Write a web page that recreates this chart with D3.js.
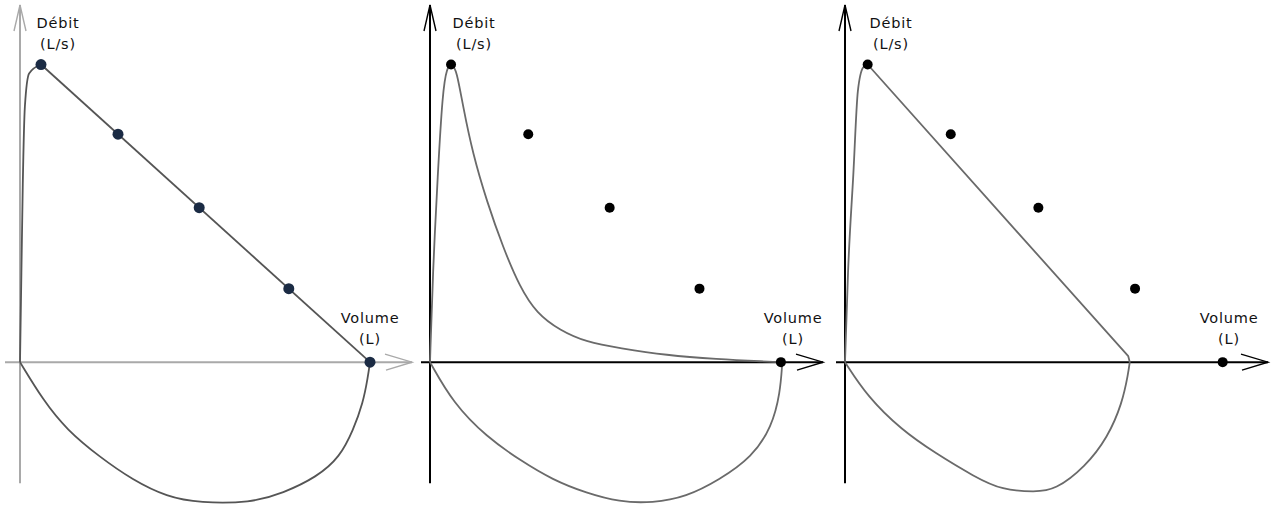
<!DOCTYPE html>
<html>
<head>
<meta charset="utf-8">
<script src="https://cdn.jsdelivr.net/npm/d3@7"></script>
<style>
  html, body { margin: 0; padding: 0; background: #ffffff; }
  svg { display: block; }
  .lbl { font-family: "DejaVu Sans", Verdana, sans-serif; font-size: 14.5px; letter-spacing: 0.8px; fill: #111; }
</style>
</head>
<body>
<div id="chart"></div>
<script>
// volume (L) / debit (L/s) readings, one set per panel
const predictedVolume = [0.3, 1.4, 2.56, 3.84, 5.0];
const predictedFlow = [10, 7.66, 5.19, 2.47, 0];

const normalRise = [[0, 0], [0.02, 3], [0.04, 6], [0.07, 8.6], [0.13, 9.7], [0.3, 10]];
const normalDescent = [[0.3, 10], [5.0, 0]];
const normalInspiration = [[0, 0], [0.33, -1.28], [0.67, -2.28], [1.14, -3.19], [1.61, -3.96], [2.1, -4.53], [2.57, -4.73],
  [3.29, -4.73], [3.76, -4.4], [4.24, -3.86], [4.57, -3.19], [4.76, -2.28], [4.9, -1.38], [4.97, -0.5], [5.0, 0]];

const obstructiveExpiration = [[0, 0], [0.04, 3], [0.11, 6.3], [0.18, 9.1], [0.24, 9.9], [0.31, 10.05],
  [0.38, 9.8], [0.47, 8.6], [0.61, 7], [0.81, 5.4], [1.04, 3.86], [1.28, 2.52],
  [1.52, 1.64], [1.85, 1.07], [2.23, 0.67], [2.7, 0.47], [3.37, 0.23], [4.08, 0.1], [4.79, 0.02], [5.0, 0]];
const obstructiveInspiration = [[0, 0], [0.33, -1.38], [0.81, -2.52], [1.28, -3.29], [1.75, -3.96], [2.23, -4.4], [2.7, -4.7],
  [3.17, -4.73], [3.65, -4.53], [4.12, -3.96], [4.59, -3.19], [4.87, -2.18], [4.99, -1.04], [5.02, 0]];

const restrictiveRise = [[0, 0], [0.04, 3], [0.11, 6.3], [0.17, 9.1], [0.24, 9.9], [0.3, 10]];
const restrictiveDescent = [[0.3, 10], [3.75, 0.2], [3.77, 0]];
const restrictiveInspiration = [[0, 0], [0.3, -1.17], [0.75, -2.28], [1.19, -3.05], [1.72, -3.86], [2.08, -4.3], [2.52, -4.36],
  [2.78, -4.3], [3.18, -3.52], [3.48, -2.52], [3.67, -1.38], [3.75, -0.37], [3.77, 0]];

const yLabel = ["Débit", "(L/s)"];
const xLabel = ["Volume", "(L)"];

const width = 1272;
const height = 506;
const svg = d3.select("#chart").append("svg").attr("width", width).attr("height", height);

const y = d3.scaleLinear().domain([-4.8, 12]).range([505, 5]);

const panels = [
  { left: 20, right: 412, stub: 5, axis: "#a9a9a9", dot: "#1b2b44", dotR: 5.5, curve: "#555555", ylx: 38, xlx: 350,
    paths: [[normalRise, d3.curveMonotoneX], [normalDescent, d3.curveLinear], [normalInspiration, d3.curveBasis]] },
  { left: 430, right: 823, stub: 421, axis: "#000000", dot: "#000000", dotR: 5, curve: "#6a6a6a", ylx: 44, xlx: 363,
    paths: [[obstructiveExpiration, d3.curveBasis], [obstructiveInspiration, d3.curveBasis]] },
  { left: 845, right: 1268, stub: 836, axis: "#000000", dot: "#000000", dotR: 5, curve: "#6a6a6a", ylx: 46, xlx: 384,
    paths: [[restrictiveRise, d3.curveMonotoneX], [restrictiveDescent, d3.curveLinear], [restrictiveInspiration, d3.curveBasis]] }
];

panels.forEach((panel) => {
  const x = d3.scaleLinear().domain([0, 5.6]).range([panel.left, panel.right]);
  const g = svg.append("g");
  const x0 = x(0);
  const y0 = y(0);

  // axes with open arrowheads
  g.append("line").attr("x1", panel.stub).attr("x2", x(5.6)).attr("y1", y0).attr("y2", y0)
    .attr("stroke", panel.axis).attr("stroke-width", 2);
  g.append("line").attr("x1", x0).attr("x2", x0).attr("y1", y(-4.07)).attr("y2", y(12))
    .attr("stroke", panel.axis).attr("stroke-width", 2);
  g.append("path")
    .attr("d", `M${x(5.6) - 27},${y0 - 8}L${x(5.6)},${y0}L${x(5.6) - 26},${y0 + 8}`)
    .attr("fill", "none").attr("stroke", panel.axis).attr("stroke-width", 1.4);
  g.append("path")
    .attr("d", `M${x0 - 6},${y(12) + 26}L${x0},${y(12)}L${x0 + 6},${y(12) + 26}`)
    .attr("fill", "none").attr("stroke", panel.axis).attr("stroke-width", 1.4);

  panel.paths.forEach(([points, curve]) => {
    const line = d3.line().x((d) => x(d[0])).y((d) => y(d[1])).curve(curve);
    g.append("path").datum(points).attr("d", line)
      .attr("fill", "none").attr("stroke", panel.curve).attr("stroke-width", 1.8)
      .attr("stroke-linejoin", "round");
  });

  g.selectAll("circle").data(predictedVolume).join("circle")
    .attr("cx", (d) => x(d))
    .attr("cy", (d, i) => y(predictedFlow[i]))
    .attr("r", panel.dotR)
    .attr("fill", panel.dot);

  g.selectAll("text.yl").data(yLabel).join("text").attr("class", "lbl yl")
    .attr("x", x0 + panel.ylx).attr("y", (d, i) => 28 + i * 21)
    .attr("text-anchor", "middle").text((d) => d);
  g.selectAll("text.xl").data(xLabel).join("text").attr("class", "lbl xl")
    .attr("x", x0 + panel.xlx).attr("y", (d, i) => 323 + i * 21)
    .attr("text-anchor", "middle").text((d) => d);
});
</script>
</body>
</html>
